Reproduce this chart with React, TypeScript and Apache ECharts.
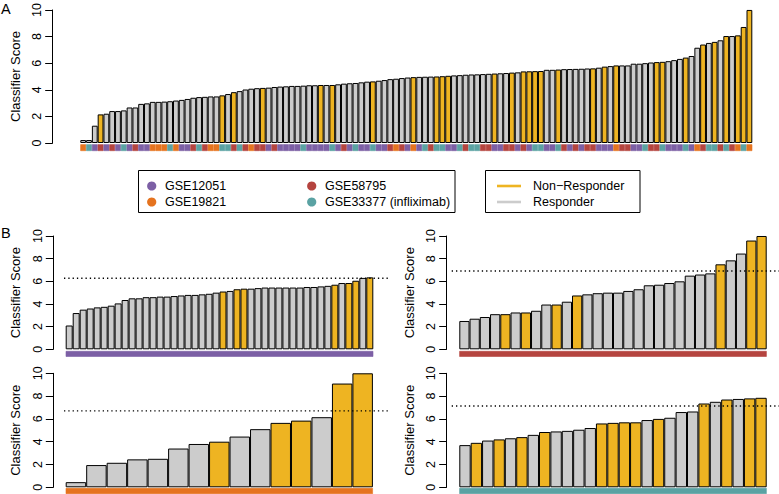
import React, { useEffect, useRef } from 'react';
import * as echarts from 'echarts';

const FONT = '"Liberation Sans", Arial, Helvetica, sans-serif';

const datasetNames = ['GSE12051', 'GSE19821', 'GSE58795', 'GSE33377 (infliximab)'];
const datasetColors = ['#7C5FA5', '#E5731F', '#B5443F', '#5AA2A3'];
const responseNames = ['Non\u2212Responder', 'Responder'];
const responseColors = ['#EEB422', '#CCCCCC'];
const axisTitle = 'Classifier Score';

// Panel A: all samples, sorted by score
const topScores = [
  0.22, 0.22, 1.3, 2.15, 2.2, 2.4, 2.4, 2.45, 2.67, 2.67,
  2.94, 2.98, 3.09, 3.09, 3.11, 3.14, 3.19, 3.24, 3.31, 3.4,
  3.45, 3.47, 3.5, 3.5, 3.58, 3.68, 3.82, 3.9, 4.02, 4.08,
  4.12, 4.14, 4.16, 4.21, 4.24, 4.26, 4.29, 4.29, 4.31, 4.34,
  4.34, 4.36, 4.36, 4.36, 4.41, 4.46, 4.49, 4.51, 4.56, 4.61,
  4.63, 4.68, 4.73, 4.8, 4.83, 4.88, 4.92, 4.95, 4.97, 4.98,
  4.99, 5.0, 5.02, 5.05, 5.08, 5.1, 5.13, 5.15, 5.16, 5.18,
  5.2, 5.22, 5.24, 5.26, 5.29, 5.31, 5.38, 5.39, 5.4, 5.41,
  5.5, 5.5, 5.52, 5.55, 5.56, 5.57, 5.58, 5.6, 5.61, 5.66,
  5.74, 5.78, 5.83, 5.83, 5.83, 5.96, 5.96, 6.0, 6.05, 6.08,
  6.1, 6.15, 6.23, 6.32, 6.42, 6.54, 7.16, 7.4, 7.52, 7.6,
  7.72, 8.04, 8.04, 8.09, 8.72, 10.0,
];
// 1 = Non-Responder, 0 = Responder
const topNonResponder = [
  0, 0, 0, 1, 0, 0, 0, 0, 0, 0,
  0, 0, 0, 0, 0, 0, 0, 0, 0, 0,
  0, 0, 0, 0, 1, 0, 1, 0, 0, 0,
  0, 1, 0, 0, 0, 0, 0, 0, 0, 0,
  0, 1, 0, 1, 0, 0, 0, 0, 0, 0,
  1, 0, 0, 0, 0, 0, 0, 1, 0, 0,
  0, 1, 1, 1, 0, 0, 0, 0, 0, 0,
  0, 1, 0, 0, 1, 0, 1, 1, 1, 1,
  0, 0, 1, 0, 0, 0, 0, 0, 1, 0,
  1, 0, 1, 0, 0, 0, 0, 0, 0, 1,
  1, 0, 0, 0, 1, 0, 0, 1, 0, 1,
  0, 1, 0, 1, 1, 1,
];
// index into datasetNames
const topDataset = [
  1, 3, 0, 2, 0, 2, 0, 3, 0, 2,
  0, 0, 1, 1, 1, 3, 1, 0, 0, 2,
  3, 2, 1, 1, 3, 3, 2, 3, 2, 1,
  2, 2, 0, 2, 0, 0, 0, 0, 3, 0,
  0, 0, 0, 3, 0, 2, 0, 3, 0, 0,
  3, 0, 0, 2, 1, 2, 0, 1, 0, 3,
  2, 3, 3, 0, 0, 3, 2, 3, 3, 2,
  2, 0, 0, 2, 2, 0, 2, 0, 3, 3,
  0, 0, 3, 2, 0, 2, 0, 2, 2, 0,
  0, 0, 1, 2, 2, 0, 0, 3, 2, 2,
  3, 0, 0, 0, 3, 0, 1, 2, 3, 3,
  2, 3, 2, 1, 3, 1,
];

// Panel B: per dataset
const gse12051Scores = [
  2.1, 3.2, 3.5, 3.6, 3.7, 3.75, 3.85, 4.05, 4.35, 4.5,
  4.5, 4.6, 4.6, 4.65, 4.65, 4.7, 4.75, 4.8, 4.8, 4.85,
  4.9, 5.0, 5.1, 5.15, 5.3, 5.35, 5.35, 5.4, 5.45, 5.45,
  5.45, 5.45, 5.45, 5.45, 5.5, 5.5, 5.55, 5.6, 5.7, 5.85,
  5.85, 6.05, 6.3, 6.35,
];
const gse12051NonResponder = [
  0, 0, 0, 0, 0, 0, 0, 0, 0, 0,
  0, 0, 0, 0, 0, 0, 0, 0, 0, 0,
  0, 0, 1, 0, 1, 1, 0, 0, 0, 0,
  0, 0, 0, 0, 0, 0, 0, 0, 1, 0,
  1, 1, 0, 1,
];
const gse12051Threshold = 6.27;

const gse58795Scores = [
  2.5, 2.7, 2.85, 3.1, 3.1, 3.25, 3.25, 3.4, 3.95, 3.95,
  4.2, 4.75, 4.85, 4.95, 5.0, 5.0, 5.15, 5.3, 5.65, 5.7,
  5.85, 6.0, 6.5, 6.6, 6.7, 7.5, 7.85, 8.45, 9.6, 10.0,
];
const gse58795NonResponder = [
  0, 0, 0, 0, 1, 0, 1, 0, 0, 1,
  0, 1, 0, 0, 0, 0, 0, 0, 0, 0,
  0, 0, 0, 0, 0, 1, 0, 0, 1, 1,
];
const gse58795Threshold = 6.91;

const gse19821Scores = [0.45, 1.95, 2.15, 2.45, 2.5, 3.4, 3.8, 4.0, 4.45, 5.1, 5.65, 5.85, 6.15, 9.1, 10.0];
const gse19821NonResponder = [0, 0, 0, 0, 0, 0, 0, 1, 0, 0, 1, 1, 0, 1, 1];
const gse19821Threshold = 6.7;

const gse33377Scores = [
  3.7, 3.9, 4.1, 4.2, 4.3, 4.4, 4.6, 4.85, 4.9, 4.95,
  5.05, 5.2, 5.6, 5.65, 5.7, 5.7, 5.9, 6.0, 6.1, 6.6,
  6.65, 7.35, 7.5, 7.7, 7.75, 7.8, 7.85,
];
const gse33377NonResponder = [
  0, 1, 0, 1, 0, 1, 0, 1, 0, 0,
  0, 0, 1, 1, 1, 1, 0, 1, 0, 0,
  0, 1, 0, 1, 0, 1, 1,
];
const gse33377Threshold = 7.13;

type PanelCfg = {
  scores: number[];
  nr: number[];
  strip: number[];
  threshold?: number;
  left: number;
  top: number;
  width: number;
  height: number;
  axisX: number;
  stripTop: number;
  stripH: number;
  lineLeft?: number;
  lineWidth?: number;
};

function buildOption() {
  const panels: PanelCfg[] = [
    { scores: topScores, nr: topNonResponder, strip: topDataset, left: 80.3, top: 7, width: 672, height: 136, axisX: 52.7, stripTop: 144.3, stripH: 6.7 },
    { scores: gse12051Scores, nr: gse12051NonResponder, strip: [0], threshold: gse12051Threshold, left: 65.7, top: 236, width: 307.6, height: 113.3, axisX: 53.3, stripTop: 351, stripH: 5.8, lineLeft: 64, lineWidth: 325 },
    { scores: gse58795Scores, nr: gse58795NonResponder, strip: [2], threshold: gse58795Threshold, left: 459.3, top: 236, width: 307.4, height: 113.3, axisX: 446.7, stripTop: 351, stripH: 5.8, lineLeft: 451.7, lineWidth: 327.3 },
    { scores: gse19821Scores, nr: gse19821NonResponder, strip: [1], threshold: gse19821Threshold, left: 65.7, top: 373.3, width: 307.2, height: 114, axisX: 53.3, stripTop: 488, stripH: 6, lineLeft: 64, lineWidth: 325 },
    { scores: gse33377Scores, nr: gse33377NonResponder, strip: [3], threshold: gse33377Threshold, left: 459.3, top: 373.3, width: 307.4, height: 114, axisX: 446.7, stripTop: 488, stripH: 6, lineLeft: 451.7, lineWidth: 327.3 },
  ];

  const grid: any[] = [];
  const xAxis: any[] = [];
  const yAxis: any[] = [];
  const series: any[] = [];

  panels.forEach((p) => {
    const gi = grid.length;
    grid.push({ left: p.left, top: p.top, width: p.width, height: p.height });
    xAxis.push({ type: 'category', gridIndex: gi, data: p.scores.map((_, i) => String(i + 1)), show: false, boundaryGap: true });
    yAxis.push({
      type: 'value', gridIndex: gi, min: 0, max: 10, interval: 2,
      offset: p.left - p.axisX,
      axisLine: { show: true, lineStyle: { color: '#000', width: 1 } },
      axisTick: { show: true, length: 7.5, lineStyle: { color: '#000', width: 1 } },
      axisLabel: { rotate: 90, margin: 9, color: '#000', fontSize: 12.5, fontFamily: FONT },
      splitLine: { show: false },
      name: axisTitle, nameLocation: 'middle', nameGap: 31,
      nameTextStyle: { color: '#000', fontSize: 13, fontFamily: FONT },
    });
    series.push({
      type: 'bar', xAxisIndex: gi, yAxisIndex: gi, barCategoryGap: '0%',
      itemStyle: { borderColor: '#000', borderWidth: 1 },
      data: p.scores.map((v, i) => ({ value: v, itemStyle: { color: p.nr[i] ? responseColors[0] : responseColors[1] } })),
      z: 2,
    });

    const si = grid.length;
    grid.push({ left: p.left, top: p.stripTop, width: p.width, height: p.stripH });
    xAxis.push({ type: 'category', gridIndex: si, data: p.strip.map((_, i) => String(i + 1)), show: false });
    yAxis.push({ type: 'value', gridIndex: si, min: 0, max: 1, show: false });
    series.push({
      type: 'bar', xAxisIndex: si, yAxisIndex: si, barCategoryGap: '0%',
      data: p.strip.map((d) => ({ value: 1, itemStyle: { color: datasetColors[d], borderColor: datasetColors[d], borderWidth: 0.6 } })),
    });

    if (p.threshold != null) {
      const li = grid.length;
      grid.push({ left: p.lineLeft, top: p.top, width: p.lineWidth, height: p.height });
      xAxis.push({ type: 'value', gridIndex: li, min: 0, max: 1, show: false });
      yAxis.push({ type: 'value', gridIndex: li, min: 0, max: 10, show: false });
      series.push({
        type: 'line', xAxisIndex: li, yAxisIndex: li, symbol: 'none', silent: true, z: 5,
        lineStyle: { color: '#000', width: 1.3, type: [1.3, 3] },
        data: [[0, p.threshold], [1, p.threshold]],
      });
    }
  });

  const txt = (x: number, y: number, text: string, size = 12.5, align = 'left') => ({
    type: 'text', x, y,
    style: { text, fill: '#000', fontSize: size, fontFamily: FONT, textAlign: align, textVerticalAlign: 'middle' },
  });

  const graphic: any[] = [
    txt(1, 9, 'A', 14.5),
    txt(1, 233, 'B', 14.5),
    { type: 'rect', shape: { x: 138.5, y: 170.5, width: 316.5, height: 42 }, style: { fill: 'none', stroke: '#000', lineWidth: 1 } },
    { type: 'circle', shape: { cx: 151.7, cy: 186, r: 4.6 }, style: { fill: datasetColors[0] } },
    txt(165, 186, datasetNames[0]),
    { type: 'circle', shape: { cx: 151.7, cy: 202, r: 4.6 }, style: { fill: datasetColors[1] } },
    txt(165, 202, datasetNames[1]),
    { type: 'circle', shape: { cx: 311.7, cy: 186, r: 4.6 }, style: { fill: datasetColors[2] } },
    txt(325, 186, datasetNames[2]),
    { type: 'circle', shape: { cx: 311.7, cy: 202, r: 4.6 }, style: { fill: datasetColors[3] } },
    txt(325, 202, datasetNames[3]),
    { type: 'rect', shape: { x: 485.5, y: 170.5, width: 154.5, height: 42 }, style: { fill: 'none', stroke: '#000', lineWidth: 1 } },
    { type: 'line', shape: { x1: 497, y1: 186, x2: 521, y2: 186 }, style: { stroke: responseColors[0], lineWidth: 2.6 } },
    txt(533, 186, responseNames[0]),
    { type: 'line', shape: { x1: 497, y1: 202, x2: 521, y2: 202 }, style: { stroke: responseColors[1], lineWidth: 2.6 } },
    txt(533, 202, responseNames[1]),
  ];

  return { animation: false, backgroundColor: '#fff', grid, xAxis, yAxis, series, graphic };
}

export default function App() {
  const ref = useRef<HTMLDivElement>(null);
  useEffect(() => {
    if (!ref.current) return;
    const chart = echarts.init(ref.current, undefined, { renderer: 'svg' });
    chart.setOption(buildOption() as any);
    return () => chart.dispose();
  }, []);
  return <div ref={ref} style={{ position: 'fixed', left: 0, top: 0, width: 779, height: 494 }} />;
}
